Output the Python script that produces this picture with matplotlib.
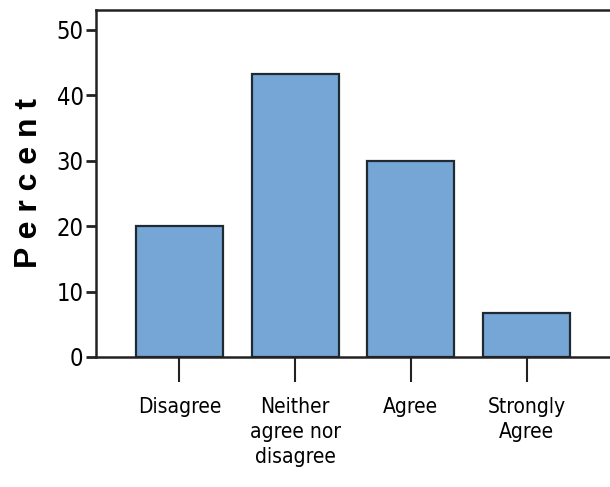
import matplotlib
matplotlib.use("Agg")
import matplotlib.pyplot as plt
from matplotlib import font_manager

categories = ["Disagree", "Neither\nagree nor\ndisagree", "Agree", "Strongly\nAgree"]
percent = [20.0, 43.3, 30.0, 6.7]
y_ticks = [0, 10, 20, 30, 40, 50]

narrow_y = font_manager.FontProperties(family="DejaVu Sans", stretch="condensed", size=17)
narrow_x = font_manager.FontProperties(family="DejaVu Sans", stretch="condensed", size=15)

fig = plt.figure(figsize=(6.10, 4.87), dpi=100)
ax = fig.add_axes([96 / 610, 1 - 357 / 487, 1 - 96 / 610, (357 - 10) / 487])

x = range(len(categories))
ax.bar(x, percent, width=0.75, color="#76A6D6", edgecolor="#1f2a33", linewidth=1.6, zorder=2)

ax.set_ylim(0, 53)
ax.set_xlim(-0.72, 3.72)
ax.set_yticks(y_ticks)
ax.set_yticklabels([str(v) for v in y_ticks], fontproperties=narrow_y)
ax.set_xticks(list(x))
ax.set_xticklabels(categories, fontproperties=narrow_x, linespacing=1.3)

ax.tick_params(axis="y", length=7, width=2, pad=2, color="#222222")
ax.tick_params(axis="x", length=18, width=1.5, pad=11, color="#222222")

for side in ["left", "bottom", "top"]:
    ax.spines[side].set_linewidth(1.8)
    ax.spines[side].set_color("#222222")
ax.spines["right"].set_visible(False)

ax.set_ylabel(" ".join("Percent"), fontsize=23, fontweight="bold",
              family=["Liberation Sans", "DejaVu Sans"], labelpad=9)

fig.savefig("out.png", dpi=100)
